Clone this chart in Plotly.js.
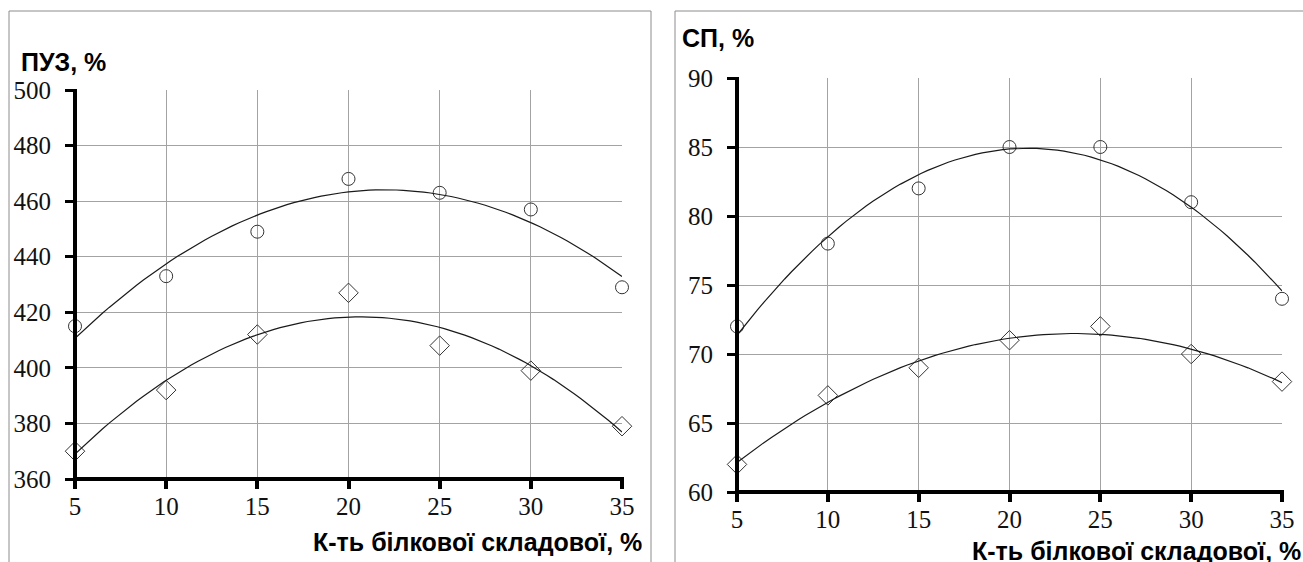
<!DOCTYPE html>
<html><head><meta charset="utf-8">
<script src="https://cdn.plot.ly/plotly-3.0.1.min.js"></script>
<style>html,body{margin:0;padding:0;background:#fff;}#chart{width:1303px;height:562px;}</style>
</head><body><div id="chart"></div>
<script>
// ---- data ----
const protein = [5, 10, 15, 20, 25, 30, 35];
const puzCircle = [415, 433, 449, 468, 463, 457, 429];
const puzDiamond = [370, 392, 412, 427, 408, 399, 379];
const spCircle = [72, 78, 82, 85, 85, 81, 74];
const spDiamond = [62, 67, 69, 71, 72, 70, 68];
const xTicks = [5, 10, 15, 20, 25, 30, 35];
const puzTicks = [360, 380, 400, 420, 440, 460, 480, 500];
const spTicks = [60, 65, 70, 75, 80, 85, 90];
const puzTitle = 'ПУЗ, %';
const spTitle = 'СП, %';
const xTitle = 'К-ть білкової складової, %';

const W = 1303, H = 562;
const px = v => v / W;
const py = v => 1 - v / H;

// 2nd-order polynomial least-squares trendline (as in the original chart)
function quadFit(xs, ys) {
  const S = [0,0,0,0,0], T = [0,0,0];
  xs.forEach((x, i) => {
    for (let k = 0; k < 5; k++) S[k] += Math.pow(x, k);
    for (let k = 0; k < 3; k++) T[k] += ys[i] * Math.pow(x, k);
  });
  const M = [[S[0],S[1],S[2],T[0]],[S[1],S[2],S[3],T[1]],[S[2],S[3],S[4],T[2]]];
  for (let c = 0; c < 3; c++) {
    for (let r = c + 1; r < 3; r++) {
      const f = M[r][c] / M[c][c];
      for (let k = c; k < 4; k++) M[r][k] -= f * M[c][k];
    }
  }
  const a = [0,0,0];
  for (let r = 2; r >= 0; r--) {
    let s = M[r][3];
    for (let k = r + 1; k < 3; k++) s -= M[r][k] * a[k];
    a[r] = s / M[r][r];
  }
  return x => a[0] + a[1] * x + a[2] * x * x;
}
function trend(xs, ys, xa, ya) {
  const f = quadFit(xs, ys);
  const lo = xs[0], hi = xs[xs.length - 1], n = 80;
  const tx = [], ty = [];
  for (let i = 0; i <= n; i++) { const x = lo + (hi - lo) * i / n; tx.push(x); ty.push(f(x)); }
  return {x: tx, y: ty, xaxis: xa, yaxis: ya, mode: 'lines', type: 'scatter',
    line: {color: '#1a1a1a', width: 1.2}, hoverinfo: 'skip'};
}
function pts(xs, ys, sym, xa, ya, size) {
  return {x: xs, y: ys, xaxis: xa, yaxis: ya, mode: 'markers', type: 'scatter', cliponaxis: false,
    marker: {symbol: sym, size: size, color: '#333', line: {color: '#333', width: 1}}};
}

// trendlines live on the overlay axes (same ranges) that carry the tick marks
const traces = [
  pts(protein, puzCircle, 'circle-open', 'x', 'y', 13),
  pts(protein, puzDiamond, 'diamond-open', 'x', 'y', 15),
  pts(protein, spCircle, 'circle-open', 'x2', 'y2', 13),
  pts(protein, spDiamond, 'diamond-open', 'x2', 'y2', 15),
  trend(protein, puzCircle, 'x3', 'y3'),
  trend(protein, puzDiamond, 'x3', 'y3'),
  trend(protein, spCircle, 'x4', 'y4'),
  trend(protein, spDiamond, 'x4', 'y4')
];

const tickFont = {family: 'Liberation Serif, Times New Roman, serif', size: 25, color: '#111'};
const titleFont = {family: 'Liberation Sans Narrow, Liberation Sans, Arial, sans-serif', size: 25, color: '#000'};
// label axes: gridlines + tick labels
function xaxis(dom, anchor) {
  return {domain: dom, anchor: anchor, range: [5, 35], tickvals: xTicks, ticktext: xTicks.map(String),
    showgrid: true, gridcolor: '#a3a3a3', gridwidth: 1, zeroline: false, showline: false,
    ticks: '', tickfont: tickFont, ticklabelstandoff: 10};
}
function yaxis(dom, anchor, rng, tv) {
  return {domain: dom, anchor: anchor, range: rng, tickvals: tv, ticktext: tv.map(String),
    showgrid: true, gridcolor: '#a3a3a3', gridwidth: 1, zeroline: false, showline: false,
    ticks: '', tickfont: tickFont, ticklabelstandoff: 23};
}
// overlay axes: outside tick marks only
function xline(over, dom, anchor) {
  return {overlaying: over, domain: dom, anchor: anchor, side: 'bottom', range: [5, 35], tickvals: xTicks,
    showgrid: false, zeroline: false, showticklabels: false, showline: false,
    ticks: 'outside', ticklen: 9, tickwidth: 3.5, tickcolor: '#000000'};
}
function yline(over, dom, anchor, rng, tv) {
  return {overlaying: over, domain: dom, anchor: anchor, side: 'left', range: rng, tickvals: tv,
    showgrid: false, zeroline: false, showticklabels: false, showline: false,
    ticks: 'outside', ticklen: 9, tickwidth: 3, tickcolor: '#000000'};
}

const gray = '#8c8c8c';
function ln(x0, y0, x1, y1) {
  return {type: 'line', xref: 'paper', yref: 'paper', x0: px(x0), y0: py(y0), x1: px(x1), y1: py(y1),
    line: {color: gray, width: 1}};
}
// thick black axis lines along the left and bottom edges of each plot area
function axisLines(xa, ya, wPx, hPx) {
  const blk = {color: '#000000', width: 4};
  return [
    {type: 'line', layer: 'above', xref: xa + ' domain', yref: ya + ' domain',
      x0: -2 / wPx, x1: 1 + 2 / wPx, y0: 0, y1: 0, line: blk},
    {type: 'line', layer: 'above', xref: xa + ' domain', yref: ya + ' domain',
      x0: 0, x1: 0, y0: -2 / hPx, y1: 1 + 1 / hPx, line: blk}
  ];
}

const domX1 = [px(75), px(622)], domY1 = [1 - 479 / H, 1 - 90 / H];
const domX2 = [px(737), px(1282)], domY2 = [1 - 492 / H, 1 - 78 / H];

const layout = {
  width: W, height: H, margin: {l: 0, r: 0, t: 0, b: 0},
  paper_bgcolor: '#fff', plot_bgcolor: '#fff', showlegend: false,
  xaxis: xaxis(domX1, 'y'),
  yaxis: yaxis(domY1, 'x', [360, 500], puzTicks),
  xaxis2: xaxis(domX2, 'y2'),
  yaxis2: yaxis(domY2, 'x2', [60, 90], spTicks),
  xaxis3: xline('x', domX1, 'y3'),
  yaxis3: yline('y', domY1, 'x3', [360, 500], puzTicks),
  xaxis4: xline('x2', domX2, 'y4'),
  yaxis4: yline('y2', domY2, 'x4', [60, 90], spTicks),
  shapes: [
    ln(9, 11, 651, 11), ln(9, 11, 9, 562), ln(651, 11, 651, 562),
    ln(675, 11, 1303, 11), ln(675, 11, 675, 562)
  ].concat(axisLines('x', 'y', 547, 389)).concat(axisLines('x2', 'y2', 545, 414)),
  annotations: [
    {text: '<b>' + puzTitle + '</b>', xref: 'paper', yref: 'paper', x: px(19), y: py(62),
      xanchor: 'left', yanchor: 'middle', showarrow: false, font: titleFont},
    {text: '<b>' + spTitle + '</b>', xref: 'paper', yref: 'paper', x: px(680), y: py(38),
      xanchor: 'left', yanchor: 'middle', showarrow: false, font: titleFont},
    {text: '<b>' + xTitle + '</b>', xref: 'paper', yref: 'paper', x: px(644), y: py(542),
      xanchor: 'right', yanchor: 'middle', showarrow: false, font: titleFont},
    {text: '<b>' + xTitle + '</b>', xref: 'paper', yref: 'paper', x: px(1303), y: py(551),
      xanchor: 'right', yanchor: 'middle', showarrow: false, font: titleFont}
  ]
};

Plotly.newPlot('chart', traces, layout, {displayModeBar: false});
</script></body></html>
